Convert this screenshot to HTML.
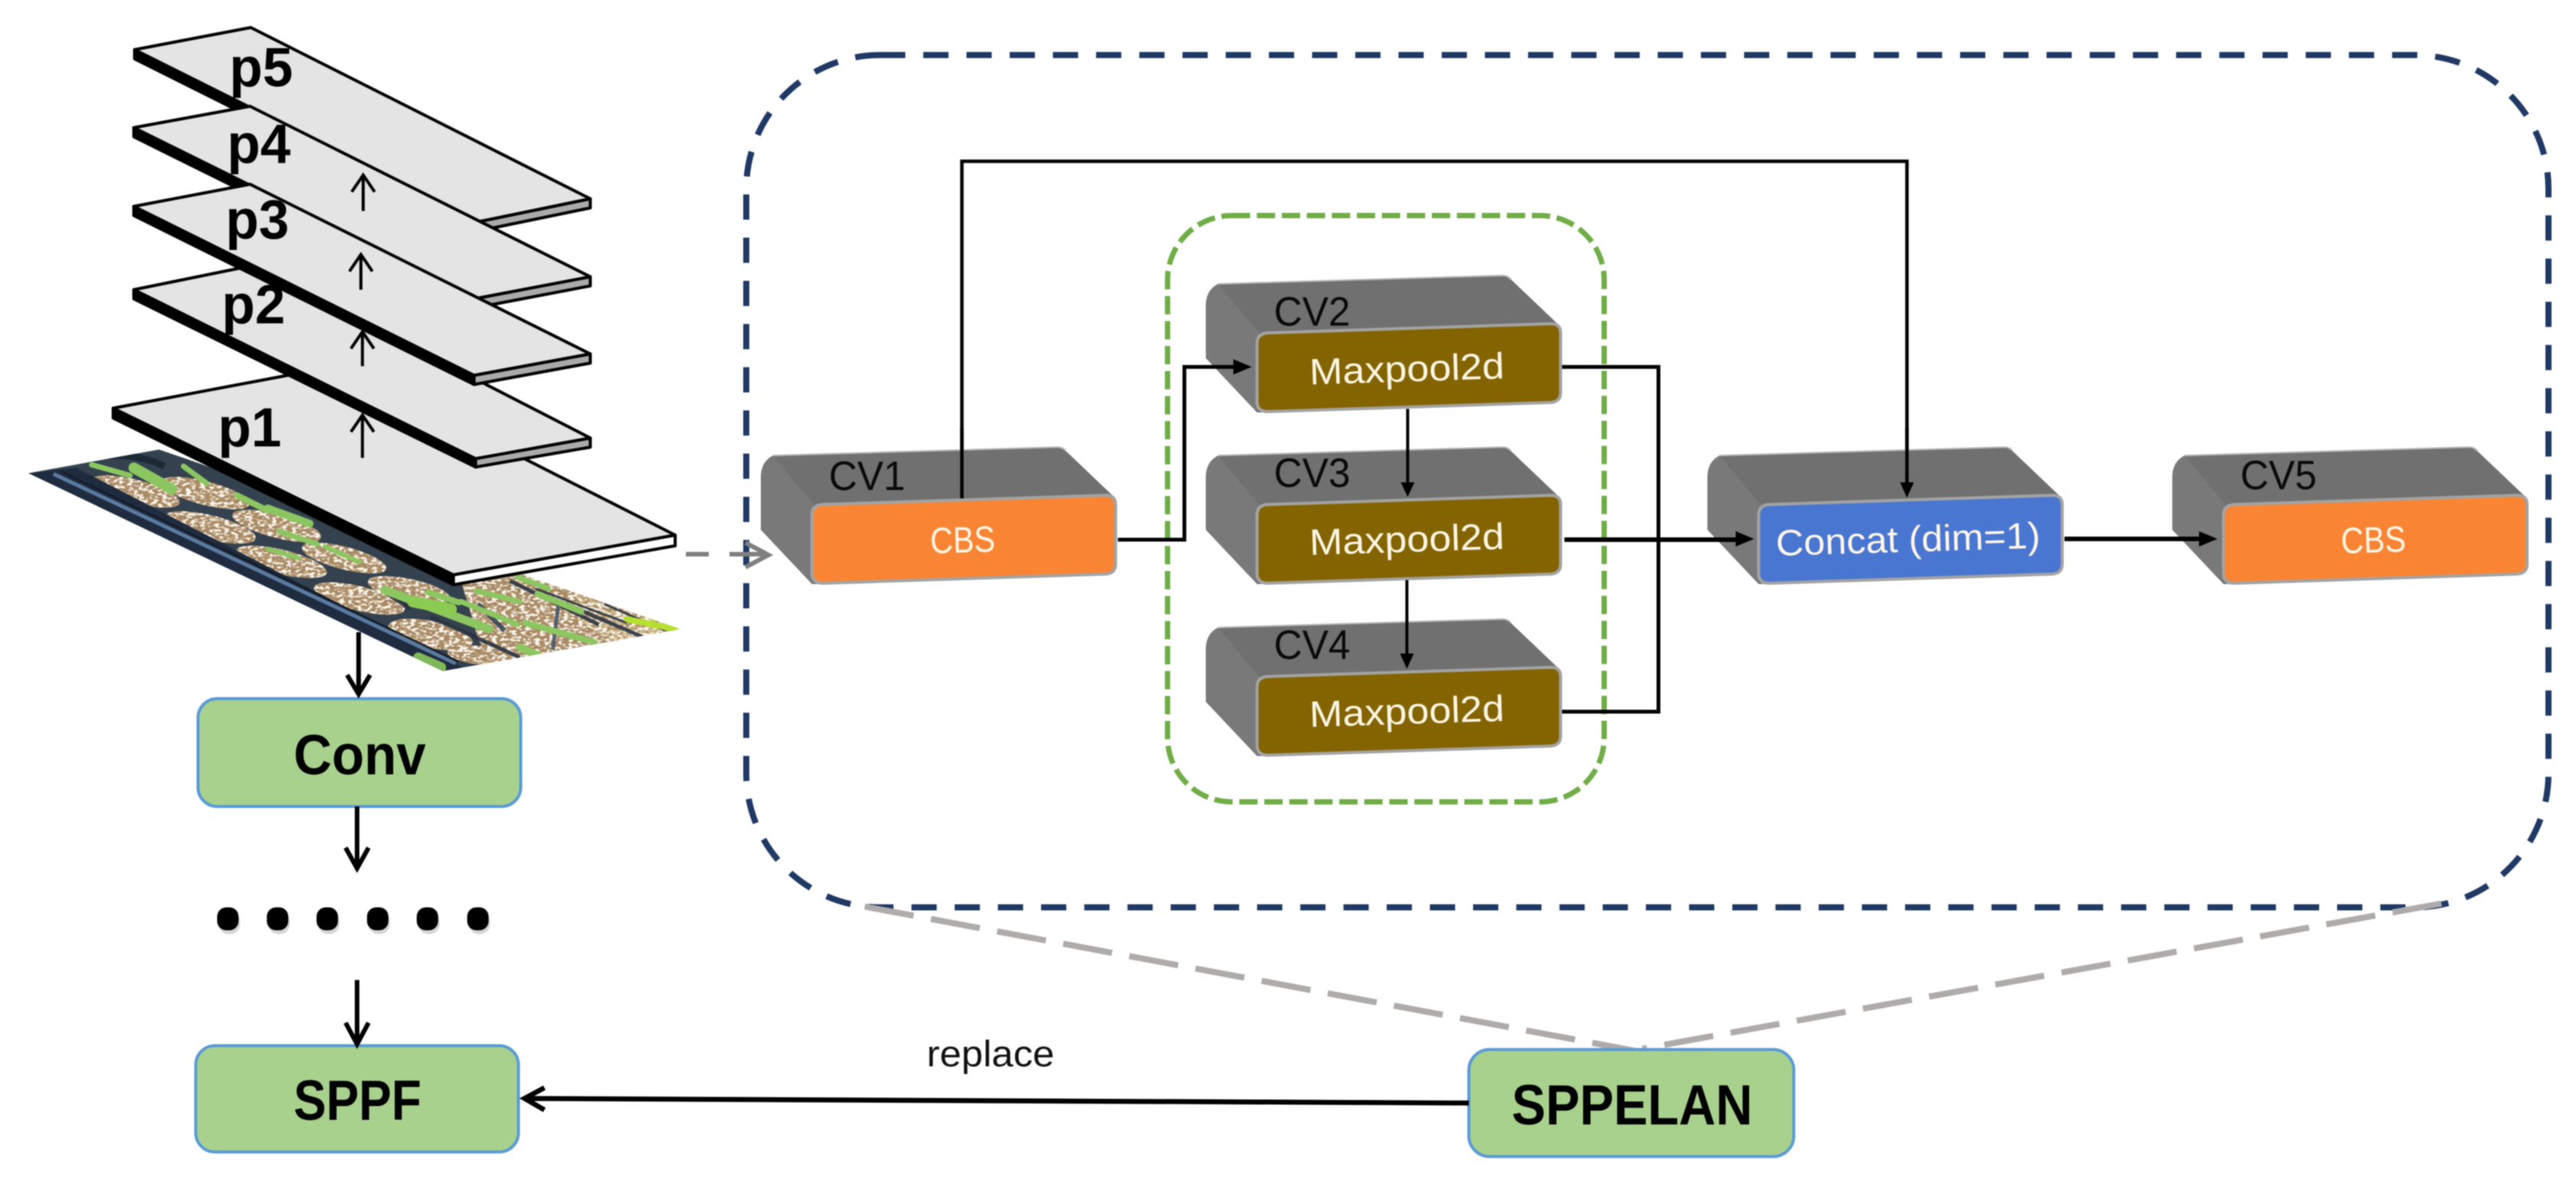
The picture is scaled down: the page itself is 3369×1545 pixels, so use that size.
<!DOCTYPE html>
<html>
<head>
<meta charset="utf-8">
<title>SPPELAN diagram</title>
<style>
html,body{margin:0;padding:0;background:#fff;width:3369px;height:1545px;overflow:hidden}
svg{display:block;filter:blur(0.8px)}
text{font-family:"Liberation Sans",sans-serif}
</style>
</head>
<body>
<svg width="3369" height="1545" viewBox="0 0 3369 1545" xmlns="http://www.w3.org/2000/svg">
<defs>
<path id="front" d="M1062,674 Q1062,661 1076,660 L1446,648 Q1459,648 1459,660 L1459,738 Q1459,750 1446,751 L1076,763 Q1062,763 1062,750 Z" stroke="#a3a3a3" stroke-width="4"/>
<g id="back">
<path d="M995,625 Q995,604 1011,596 L1383,585 Q1390,585 1394,590 L1457,650 L1457,700 L1068,764 L1062,764 L995,693 Z" fill="#707070"/>
<path d="M995,625 Q995,604 1011,596 L1066,662 L1062,764 L995,693 Z" fill="#797979"/>
<path d="M1011,596 L1383,585 Q1390,585 1394,590" fill="none" stroke="#b4b4b4" stroke-width="2"/>
</g>
<clipPath id="tray"><polygon points="37,619 208,588 890,823 579,878"/></clipPath>
<clipPath id="soil">
  <ellipse cx="0" cy="0" rx="1" ry="1" transform="matrix(44,21,38,-3,177,643)"/>
  <ellipse cx="0" cy="0" rx="1" ry="1" transform="matrix(44,21,40,-3,275,690)"/>
  <ellipse cx="0" cy="0" rx="1" ry="1" transform="matrix(44,21,40,-3,368,735)"/>
  <ellipse cx="0" cy="0" rx="1" ry="1" transform="matrix(44,21,40,-3,470,783)"/>
  <ellipse cx="0" cy="0" rx="1" ry="1" transform="matrix(38,20,40,-5,563,830)"/>
  <ellipse cx="0" cy="0" rx="1" ry="1" transform="matrix(24,12,34,-4,627,857)"/>
  <ellipse cx="0" cy="0" rx="1" ry="1" transform="matrix(44,21,38,-3,268,645)"/>
  <ellipse cx="0" cy="0" rx="1" ry="1" transform="matrix(44,21,38,-3,362,688)"/>
  <ellipse cx="0" cy="0" rx="1" ry="1" transform="matrix(42,20,36,-3,450,730)"/>
  <ellipse cx="0" cy="0" rx="1" ry="1" transform="matrix(40,18,36,-4,535,772)"/>
  <polygon points="600,750 700,740 895,825 640,870 625,835"/>
</clipPath>
<filter id="lightspeck" x="0" y="0" width="100%" height="100%">
  <feTurbulence type="fractalNoise" baseFrequency="0.16 0.28" numOctaves="2" seed="4"/>
  <feColorMatrix values="0 0 0 0 .95  0 0 0 0 .92  0 0 0 0 .84  5 4 0 0 -4.3"/>
</filter>
<filter id="darkspeck" x="0" y="0" width="100%" height="100%">
  <feTurbulence type="fractalNoise" baseFrequency="0.14 0.24" numOctaves="2" seed="11"/>
  <feColorMatrix values="0 0 0 0 .38  0 0 0 0 .24  0 0 0 0 .12  5 4 0 0 -4.2"/>
</filter>
</defs>

<!-- tray image -->
<g clip-path="url(#tray)">
  <polygon points="37,619 208,588 890,823 579,878" fill="#34424f"/>
  <g clip-path="url(#soil)">
    <rect x="30" y="580" width="870" height="300" fill="#ab8c66"/>
    <polygon points="770,740 895,825 800,840 740,800" fill="#cdb888"/>
    <rect x="30" y="580" width="870" height="300" filter="url(#darkspeck)"/>
    <rect x="30" y="580" width="870" height="300" filter="url(#lightspeck)"/>
  </g>
  <g stroke="#2a3442" stroke-width="5" fill="none" opacity=".9">
    <path d="M667,760 L783,817"/>
    <path d="M740,790 L840,833"/>
    <path d="M700,770 L820,815" stroke-width="3"/>
    <path d="M790,790 L870,825" stroke-width="3"/>
    <path d="M563,807 L680,860"/>
    <path d="M730,793 L723,850" stroke="#4a586a"/>
    <path d="M640,805 L625,790 L660,825" stroke="#364556" stroke-width="6"/>
    <path d="M507,777 L537,797"/>
  </g>
  <polygon points="37,619 579,878 605,873 100,612" fill="#1f2c40"/>
  <path d="M70,620 L596,868" stroke="#5a7aa0" stroke-width="5" fill="none"/>
  <path d="M80,617 L600,866" stroke="#151c28" stroke-width="2.5" fill="none"/>
  <path d="M110,600 Q170,588 215,610" stroke="#1c2a36" stroke-width="9" fill="none"/>
  <g fill="none" stroke="#8cc660" stroke-linecap="round">
    <path d="M120,608 L170,622" stroke-width="7"/>
    <path d="M175,612 L225,640" stroke-width="14"/>
    <path d="M240,610 L270,632" stroke-width="7"/>
    <path d="M310,648 L350,668" stroke-width="8"/>
    <path d="M350,665 L405,685" stroke-width="10"/>
    <path d="M365,695 L415,712" stroke-width="7"/>
    <path d="M350,718 L390,730" stroke-width="6"/>
    <path d="M425,715 L470,735" stroke-width="6"/>
    <path d="M503,772 L640,823" stroke-width="11"/>
    <path d="M540,787 L590,797" stroke-width="15" stroke="#8ccb52"/>
    <path d="M560,775 L600,788" stroke-width="8"/>
    <path d="M603,787 L677,817" stroke-width="7"/>
    <path d="M623,773 L680,787" stroke-width="7"/>
    <path d="M687,815 L777,840" stroke-width="8"/>
    <path d="M680,847 L703,857" stroke-width="10"/>
    <path d="M677,755 L717,770" stroke-width="7"/>
    <path d="M707,750 L740,763" stroke-width="8"/>
    <path d="M703,777 L760,800" stroke-width="8"/>
    <path d="M820,810 L883,823" stroke-width="8" stroke="#b5e02f"/>
    <path d="M833,798 L857,810" stroke-width="6" stroke="#b8d84a"/>
    <path d="M547,860 L577,873" stroke-width="13" stroke="#7fb85a"/>
  </g>
</g>

<!-- planes -->
<g stroke="#000" stroke-width="4" stroke-linejoin="round">
  <polygon points="176,65 626,290 626,302 176,77" fill="#000"/>
  <polygon points="626,290 772,260 772,272 626,302" fill="#aaa"/>
  <polygon points="176,65 328,36 772,260 626,290" fill="#e4e4e4"/>

  <polygon points="175,167 625,390 625,402 175,179" fill="#000"/>
  <polygon points="625,390 772,362 772,374 625,402" fill="#aaa"/>
  <polygon points="175,167 327,139 772,362 625,390" fill="#e4e4e4"/>

  <polygon points="148,534 593,752 593,765 148,547" fill="#000"/>
  <polygon points="593,752 883,700 883,714 593,765" fill="#fff"/>
  <polygon points="148,534 445,478 883,700 593,752" fill="#e4e4e4"/>

  <polygon points="175,379 622,600 622,611 175,391" fill="#000"/>
  <polygon points="622,600 772,573 772,585 622,611" fill="#aaa"/>
  <polygon points="175,379 332,347 772,573 622,600" fill="#e4e4e4"/>

  <polygon points="175,270 620,491 620,503 175,282" fill="#000"/>
  <polygon points="620,491 772,463 772,475 620,503" fill="#aaa"/>
  <polygon points="175,270 327,241 772,463 620,491" fill="#e4e4e4"/>
</g>
<g font-size="72" font-weight="bold" fill="#000">
  <text x="300" y="113" textLength="83" lengthAdjust="spacingAndGlyphs">p5</text>
  <text x="297" y="213" textLength="83" lengthAdjust="spacingAndGlyphs">p4</text>
  <text x="295" y="312" textLength="83" lengthAdjust="spacingAndGlyphs">p3</text>
  <text x="290" y="423" textLength="83" lengthAdjust="spacingAndGlyphs">p2</text>
  <text x="285" y="584" textLength="83" lengthAdjust="spacingAndGlyphs">p1</text>
</g>
<g stroke="#000" stroke-width="4" fill="none">
  <path d="M475,276 V229 M460,251 L475,229 L490,251"/>
  <path d="M472,379 V333 M457,355 L472,333 L487,355"/>
  <path d="M474,479 V434 M459,456 L474,434 L489,456"/>
  <path d="M474,599 V543 M459,565 L474,543 L489,565"/>
</g>

<!-- container dashed outlines -->
<rect x="976" y="72" width="2357" height="1115" rx="175" ry="175" fill="none" stroke="#1f3864" stroke-width="8" stroke-dasharray="33 23.5"/>
<rect x="1527" y="282" width="571" height="767" rx="84" ry="84" fill="none" stroke="#70ad47" stroke-width="7" stroke-dasharray="24 8.7"/>

<!-- grey dashed -->
<path d="M1131,1186 L2140,1375" stroke="#afabab" stroke-width="8" stroke-dasharray="65 23" fill="none"/>
<path d="M3193,1182 L2148,1372" stroke="#afabab" stroke-width="8" stroke-dasharray="65 23" fill="none"/>
<path d="M897,725 H927 M954,725 H1003 M975,710 L1005,726 L975,742" stroke="#7f7f7f" stroke-width="6" fill="none"/>

<!-- connectors behind boxes -->
<g fill="none" stroke="#000">
  <path d="M1258,652 V211 H2494 V635" stroke-width="4.5"/>
</g>

<!-- boxes -->
<use href="#back"/><use href="#front" fill="#f98534"/>
<g transform="translate(582,-224.5)"><use href="#back"/><use href="#front" fill="#846400"/></g>
<g transform="translate(582,0)"><use href="#back"/><use href="#front" fill="#846400"/></g>
<g transform="translate(582,225)"><use href="#back"/><use href="#front" fill="#846400"/></g>
<g transform="translate(1238,0)"><use href="#back"/><use href="#front" fill="#4876d0"/></g>
<g transform="translate(1846,0)"><use href="#back"/><use href="#front" fill="#f98534"/></g>

<!-- line over box tops -->
<path d="M1258,652 V560" stroke="#000" stroke-width="4.5"/>
<path d="M2494,560 V635" stroke="#000" stroke-width="4.5"/>
<polygon points="2494,651 2485,631 2503,631" fill="#000"/>

<!-- box labels -->
<g font-size="54" fill="#0a0a0a">
  <text x="1084" y="641" textLength="100" lengthAdjust="spacingAndGlyphs">CV1</text>
  <text x="1666" y="426" textLength="100" lengthAdjust="spacingAndGlyphs">CV2</text>
  <text x="1666" y="637" textLength="100" lengthAdjust="spacingAndGlyphs">CV3</text>
  <text x="1666" y="862" textLength="100" lengthAdjust="spacingAndGlyphs">CV4</text>
  <text x="2930" y="640" textLength="100" lengthAdjust="spacingAndGlyphs">CV5</text>
</g>
<g font-size="48" fill="#fff6e6">
  <text x="1217" y="724" textLength="85" lengthAdjust="spacingAndGlyphs" transform="rotate(-1.7 1217 724)">CBS</text>
  <text x="3062" y="724" textLength="85" lengthAdjust="spacingAndGlyphs" transform="rotate(-1.7 3062 724)">CBS</text>
  <text x="1713" y="503" textLength="255" lengthAdjust="spacingAndGlyphs" transform="rotate(-1.8 1713 503)">Maxpool2d</text>
  <text x="1713" y="726" textLength="255" lengthAdjust="spacingAndGlyphs" transform="rotate(-1.8 1713 726)">Maxpool2d</text>
  <text x="1713" y="951" textLength="255" lengthAdjust="spacingAndGlyphs" transform="rotate(-1.8 1713 951)">Maxpool2d</text>
  <text x="2323" y="727" textLength="346" lengthAdjust="spacingAndGlyphs" transform="rotate(-1.7 2323 727)">Concat (dim=1)</text>
</g>

<!-- connectors -->
<g fill="none" stroke="#000" stroke-width="5">
  <path d="M1462,706 H1549 V480 H1618"/>
  <path d="M1841,535 V636" stroke-width="4"/>
  <path d="M1840,759 V860" stroke-width="4"/>
  <path d="M2043,480 H2169 V931 H2043"/>
  <path d="M2046,706 H2274" stroke-width="6"/>
  <path d="M2700,705 H2880" stroke-width="6"/>
</g>
<polygon points="1637,480 1613,470 1613,490" fill="#000"/>
<polygon points="1841,650 1832,631 1850,631" fill="#000"/>
<polygon points="1840,875 1831,855 1849,855" fill="#000"/>
<polygon points="2294,705 2270,695 2270,715" fill="#000"/>
<polygon points="2900,705 2876,695 2876,715" fill="#000"/>

<!-- green boxes -->
<g fill="#a9d18e" stroke="#5b9bd5" stroke-width="4">
  <rect x="259" y="914" width="422" height="141" rx="25" ry="25"/>
  <rect x="256" y="1368" width="422" height="139" rx="25" ry="25"/>
  <rect x="1921" y="1373" width="425" height="140" rx="27" ry="27"/>
</g>
<g font-size="74" font-weight="bold" fill="#000">
  <text x="384" y="1013" textLength="173" lengthAdjust="spacingAndGlyphs">Conv</text>
  <text x="384" y="1465" textLength="167" lengthAdjust="spacingAndGlyphs">SPPF</text>
  <text x="1977" y="1471" textLength="315" lengthAdjust="spacingAndGlyphs">SPPELAN</text>
</g>
<text x="1212" y="1395" font-size="48" fill="#111" textLength="167" lengthAdjust="spacingAndGlyphs">replace</text>

<!-- left column arrows -->
<g fill="none" stroke="#000" stroke-width="6">
  <path d="M469,827 V908 M454,883 L469,908 L484,883"/>
  <path d="M467,1055 V1136 M452,1109 L467,1136 L482,1109"/>
  <path d="M467,1282 V1366 M452,1338 L467,1366 L482,1338"/>
  <path d="M1921,1443 L686,1437 M712,1423 L686,1437 L712,1452" stroke-width="6.5"/>
</g>

<!-- dots -->
<g fill="#bbb" opacity=".6">
  <rect x="286" y="1192" width="28" height="30" rx="13"/><rect x="351" y="1192" width="28" height="30" rx="13"/><rect x="416" y="1192" width="28" height="30" rx="13"/><rect x="482" y="1192" width="28" height="30" rx="13"/><rect x="547" y="1192" width="28" height="30" rx="13"/><rect x="613" y="1192" width="28" height="30" rx="13"/>
</g>
<g fill="#000">
  <rect x="284" y="1187" width="28" height="30" rx="12"/><rect x="349" y="1187" width="28" height="30" rx="12"/><rect x="414" y="1187" width="28" height="30" rx="12"/><rect x="480" y="1187" width="28" height="30" rx="12"/><rect x="545" y="1187" width="28" height="30" rx="12"/><rect x="611" y="1187" width="28" height="30" rx="12"/>
</g>
</svg>
</body>
</html>
